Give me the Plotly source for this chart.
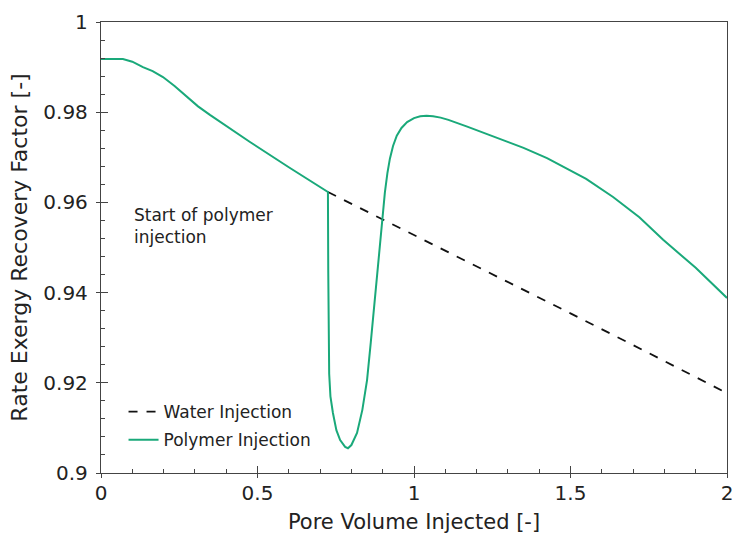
import plotly.graph_objects as go

# water injection (dashed), starts where polymer injection begins
water_pv = [0.725, 1.0, 1.25, 1.5, 1.75, 2.0]
water_rf = [0.9623, 0.9528, 0.9441, 0.9354, 0.9266, 0.9177]

# polymer injection (green)
poly_pv = [0.0, 0.07, 0.1, 0.134, 0.165, 0.198, 0.235, 0.275, 0.31, 0.348, 0.476, 0.6, 0.725,
           0.726, 0.727, 0.729, 0.733, 0.741, 0.752, 0.764, 0.78, 0.789,
           0.8, 0.818, 0.835, 0.85, 0.862, 0.875, 0.887, 0.898, 0.907,
           0.915, 0.923, 0.933, 0.945, 0.96, 0.978, 1.0, 1.02, 1.04, 1.061, 1.085, 1.11, 1.17,
           1.211, 1.275, 1.35, 1.425, 1.55, 1.636, 1.72, 1.796, 1.9, 2.0]
poly_rf = [0.9918, 0.9918, 0.9912, 0.9900, 0.9891, 0.9878, 0.9858, 0.9834, 0.9813, 0.9794,
           0.9734, 0.9678, 0.9623,
           0.945, 0.930, 0.922, 0.917, 0.9133, 0.9095, 0.9073, 0.9058, 0.9055,
           0.9062, 0.9089, 0.914, 0.9206, 0.929, 0.939, 0.948, 0.9565, 0.9622,
           0.9665, 0.9697, 0.9725, 0.9748, 0.9765, 0.9778, 0.9787, 0.9791, 0.9792, 0.9791,
           0.9788, 0.9783, 0.9768,
           0.9757, 0.9740, 0.9721, 0.9698, 0.9652, 0.9612, 0.9567, 0.9517, 0.9455, 0.9388]

font = "DejaVu Sans"
ink = "#222222"

fig = go.Figure()
fig.add_trace(go.Scatter(x=water_pv, y=water_rf, mode="lines", name="Water Injection",
                         legendgroup="w",
                         line=dict(color="#111111", width=1.8, dash="dash")))
fig.add_trace(go.Scatter(x=poly_pv, y=poly_rf, mode="lines", name="Polymer Injection",
                         legendgroup="p",
                         line=dict(color="#1aa97a", width=2)))

# outside half of the crossing ticks
fig.add_trace(go.Scatter(x=[0], y=[0.95], xaxis="x2", yaxis="y2", mode="markers",
                         marker=dict(opacity=0), showlegend=False, hoverinfo="skip"))

fig.add_annotation(x=0.1, y=0.9548, xref="x", yref="y", xanchor="left", yanchor="middle",
                   text="Start of polymer<br>injection", showarrow=False, align="left",
                   font=dict(family=font, size=17, color=ink))

axis_common = dict(showline=True, linecolor="#444444", linewidth=1.3, mirror=True,
                   showgrid=False, zeroline=False, ticks="inside", ticklen=7,
                   tickcolor="#444444", automargin=False, ticklabeloverflow="allow",
                   tickfont=dict(family=font, size=20, color=ink))

fig.update_layout(
    width=733, height=540,
    margin=dict(l=101, r=6, t=22, b=67, autoexpand=False),
    plot_bgcolor="white", paper_bgcolor="white",
    xaxis=dict(range=[0, 2], tickvals=[0, 0.5, 1, 1.5, 2], ticktext=["0", "0.5", "1", "1.5", "2"],
               minor=dict(dtick=0.1, ticks="inside", ticklen=4, tickcolor="#444444"),
               ticklabelstandoff=2,
               title=dict(text="Pore Volume Injected [-]", standoff=10,
                          font=dict(family=font, size=21, color=ink)),
               **axis_common),
    yaxis=dict(range=[0.9, 1.0], tickvals=[0.9, 0.92, 0.94, 0.96, 0.98, 1.0],
               ticktext=["0.9", "0.92", "0.94", "0.96", "0.98", "1"],
               minor=dict(dtick=0.004, ticks="inside", ticklen=4, tickcolor="#444444"),
               ticklabelstandoff=8,
               title=dict(text="Rate Exergy Recovery Factor [-]", standoff=9,
                          font=dict(family=font, size=22, color=ink)),
               **axis_common),
    xaxis2=dict(overlaying="x", range=[0, 2], tickvals=[0, 0.5, 1, 1.5, 2], showticklabels=False,
                ticks="outside", ticklen=4, tickcolor="#444444", showgrid=False,
                zeroline=False, showline=False, side="bottom", automargin=False),
    yaxis2=dict(overlaying="y", range=[0.9, 1.0], tickvals=[0.9, 0.92, 0.94, 0.96, 0.98, 1.0],
                showticklabels=False, ticks="outside", ticklen=4, tickcolor="#444444",
                showgrid=False, zeroline=False, showline=False, side="left", automargin=False),
    legend=dict(x=0.036, y=0.175, xanchor="left", yanchor="top", bgcolor="rgba(0,0,0,0)",
                font=dict(family=font, size=17, color=ink), itemwidth=30,
                traceorder="grouped", tracegroupgap=3),
    showlegend=True,
)

# page body has a default 8px margin; drop it so the figure sits at the corner
fig.write_html("out.html", config={"displayModeBar": False},
               post_script="document.body.style.margin='0';")
